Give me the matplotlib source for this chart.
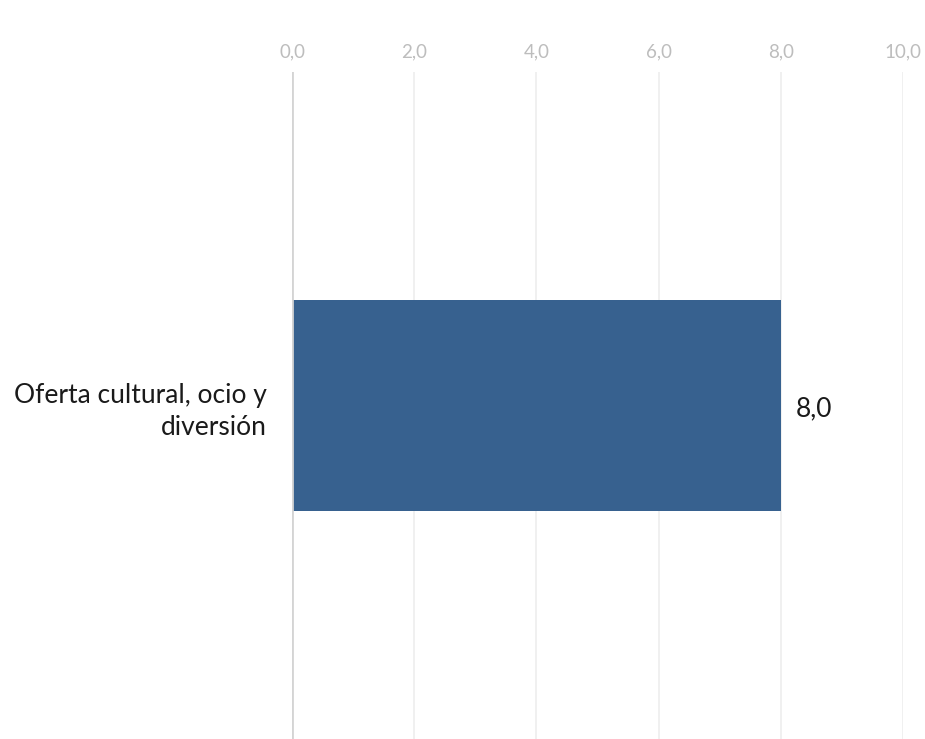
import matplotlib.pyplot as plt

categories = ['Oferta cultural, ocio y\ndiversión']
values = [8.0]
ticks = [0, 2, 4, 6, 8, 10]

plt.rcParams['font.family'] = ['Lato', 'DejaVu Sans']

fig = plt.figure(figsize=(9.25, 7.39), dpi=100)
ax = fig.add_axes([0.3157, 0.0, 0.9762 - 0.3157, 0.9026])

ax.barh(range(len(categories)), values, height=0.317, color='#37618f', zorder=3)
ax.set_xlim(0, 10)
ax.set_ylim(-0.5, 0.5)
ax.set_xticks(ticks)
ax.set_xticklabels([f'{t:.1f}'.replace('.', ',') for t in ticks])
ax.xaxis.tick_top()
ax.tick_params(axis='x', length=0, pad=8, labelsize=13.5, labelcolor='#bdbdbd')
ax.set_yticks(range(len(categories)))
ax.set_yticklabels(categories, fontsize=19, color='#1a1a1a', ha='right')
for lab in ax.get_yticklabels():
    lab.set_linespacing(1.35)
ax.tick_params(axis='y', length=0, pad=18)
ax.grid(axis='x', color='#efefef', linewidth=1.3, zorder=0)
for s in ax.spines.values():
    s.set_visible(False)
ax.axvline(0, color='#d4d4d4', linewidth=2, zorder=4)

for i, v in enumerate(values):
    ax.text(v + 0.25, i - 0.005, f'{v:.1f}'.replace('.', ','), va='center', ha='left',
            fontsize=19, color='#1a1a1a')

fig.savefig('out.png', dpi=100)
